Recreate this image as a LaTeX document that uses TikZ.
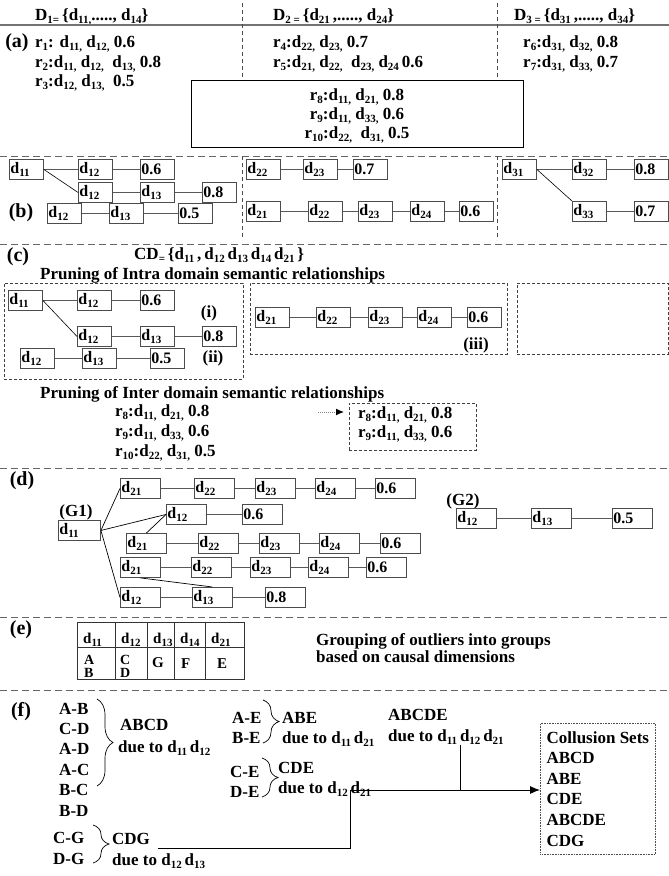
\documentclass[tikz,border=0pt]{standalone}
\usepackage{fontspec}
\setmainfont{Liberation Serif}
\usetikzlibrary{arrows.meta,positioning,decorations.pathreplacing}
\newcommand{\sbx}[1]{\raisebox{-3.5pt}{\fontsize{11}{11}\selectfont #1}}
\newcommand{\dd}[1]{d\sbx{#1}}
\tikzset{
  txt/.style={
    font=\bfseries\fontsize{17}{20.6}\selectfont,
    inner sep=0pt,
    anchor=base west
  },
  secLabel/.style={
    font=\bfseries\fontsize{20}{20}\selectfont,
    inner sep=0pt
  },
  dbox/.style={
    draw=black!70,
    line width=0.9pt,
    anchor=north west,
    text width=32pt,
    inner xsep=1pt,
    inner ysep=0pt,
    minimum height=20pt,
    align=left,
    font=\bfseries\fontsize{16}{16}\selectfont
  },
  dboxW/.style={
    dbox,
    text width=38pt
  },
  rlink/.style={
    draw=black!65,
    line width=0.9pt
  },
  secLine/.style={
    draw=black!60,
    line width=0.9pt,
    dash pattern=on 7pt off 4pt
  },
  colLine/.style={
    draw=black!70,
    line width=0.7pt,
    dash pattern=on 4pt off 3pt
  },
  grpBox/.style={
    draw=black!75,
    line width=0.8pt,
    dash pattern=on 3pt off 2pt,
    anchor=north west,
    inner sep=0pt
  },
  ruleBox/.style={
    draw=black,
    line width=0.9pt,
    anchor=north west,
    inner sep=0pt
  },
  tblLine/.style={
    draw=black!80,
    line width=0.8pt
  },
  tblHead/.style={
    font=\bfseries\fontsize{15}{15}\selectfont,
    inner sep=0pt,
    anchor=base west
  },
  tblCell/.style={
    font=\bfseries\fontsize{14}{14}\selectfont,
    inner sep=0pt,
    anchor=base west
  },
  brc/.style={
    decorate,
    decoration={brace, amplitude=#1},
    draw=black,
    line width=0.7pt
  },
  brc/.default=12pt,
  flowLine/.style={
    draw=black,
    line width=0.9pt
  },
  dotArrow/.style={
    draw=black!50,
    line width=1pt,
    dash pattern=on 1pt off 1pt,
    -{Latex[length=8pt,width=7pt,black]}
  },
  collBox/.style={
    draw=black!70,
    line width=0.6pt,
    dash pattern=on 0.8pt off 0.8pt,
    anchor=north west,
    minimum width=115pt,
    minimum height=131pt,
    inner xsep=5pt,
    inner ysep=6pt,
    align=left,
    font=\bfseries\fontsize{17}{20.6}\selectfont
  }
}

\begin{document}
\begin{tikzpicture}[x=1pt, y=-1pt]
  \useasboundingbox (0,0) rectangle (669,876);

  % (a) rules per domain
  \node[txt] (hD1) at (35,20) {D\sbx{1=}\,\{\dd{11,}....., \dd{14}\}};
  \node[txt] (hD2) at (273,20) {D\sbx{2 =}\,\{\dd{21}\,,....., \dd{24}\}};
  \node[txt] (hD3) at (514,20) {D\sbx{3 =}\,\{\dd{31}\,,....., \dd{34}\}};
  \draw[draw=black!55, line width=2pt] (0,25) -- (669,25);
  \draw[colLine] (242,3) -- (242,80);
  \draw[colLine] (497,3) -- (497,80);

  \node[secLabel] (labA) at (17,43) {(a)};
  \node[txt] (r1) at (35,47) {r\sbx{1}: \dd{11,} \dd{12,} 0.6};
  \node[txt] (r2) at (35,67) {r\sbx{2}:\dd{11,} \dd{12,}\ \ \dd{13,} 0.8};
  \node[txt] (r3) at (35,86) {r\sbx{3}:\dd{12,} \dd{13,}\ \ 0.5};
  \node[txt] (r4) at (273,47) {r\sbx{4}:\dd{22,} \dd{23,} 0.7};
  \node[txt] (r5) at (273,67) {r\sbx{5}:\dd{21,} \dd{22,}\ \ \dd{23,} \dd{24}\,0.6};
  \node[txt] (r6) at (523,47) {r\sbx{6}:\dd{31,} \dd{32,} 0.8};
  \node[txt] (r7) at (523,67) {r\sbx{7}:\dd{31,} \dd{33,} 0.7};

  \node[ruleBox, minimum width=332pt, minimum height=67pt] (cross) at (191,80) {};
  \node[txt, anchor=base] (r8) at (357,100) {r\sbx{8}:\dd{11,} \dd{21,} 0.8};
  \node[txt, anchor=base] (r9) at (357,119) {r\sbx{9}:\dd{11,} \dd{33,} 0.6};
  \node[txt, anchor=base] (r10) at (357,138) {r\sbx{10}:\dd{22,}\ \ \dd{31,} 0.5};

  % (b) graphs of the rules
  \draw[secLine] (0,156) -- (669,156);
  \draw[colLine] (242,156) -- (242,240);
  \draw[colLine] (497,156) -- (497,240);
  \node[secLabel] (labB) at (21,213) {(b)};

  \node[dbox] (b11) at (9,159) {\dd{11}};
  \node[dbox] (b12) at (78,159) {\dd{12}};
  \node[dbox] (b06) at (140,159) {0.6};
  \node[dbox] (b12x) at (78,182) {\dd{12}};
  \node[dbox] (b13x) at (140,182) {\dd{13}};
  \node[dbox] (b08) at (202,182) {0.8};
  \node[dbox] (b12y) at (47,203) {\dd{12}};
  \node[dbox] (b13y) at (109,203) {\dd{13}};
  \node[dbox] (b05) at (178,203) {0.5};

  \node[dbox] (b22) at (246,159) {\dd{22}};
  \node[dbox] (b23) at (303,159) {\dd{23}};
  \node[dbox] (b07) at (353,159) {0.7};
  \node[dbox] (b21r) at (246,201) {\dd{21}};
  \node[dbox] (b22r) at (308,201) {\dd{22}};
  \node[dbox] (b23r) at (358,201) {\dd{23}};
  \node[dbox] (b24r) at (410,201) {\dd{24}};
  \node[dbox] (b06r) at (459,201) {0.6};

  \node[dbox] (b31) at (502,159) {\dd{31}};
  \node[dbox] (b32) at (572,159) {\dd{32}};
  \node[dbox] (b08r) at (634,159) {0.8};
  \node[dbox] (b33) at (572,201) {\dd{33}};
  \node[dbox] (b07r) at (634,201) {0.7};

  \foreach \a/\b in {b11/b12, b12/b06, b12x/b13x, b13x/b08, b12y/b13y, b13y/b05,
                     b22/b23, b23/b07, b21r/b22r, b22r/b23r, b23r/b24r, b24r/b06r,
                     b31/b32, b32/b08r, b33/b07r}
    \draw[rlink] (\a) -- (\b);
  \draw[black, line width=0.6pt] (b11.east) -- (b12x.west);
  \draw[black, line width=0.6pt] (b31.east) -- (b33.north west);

  % (c) pruning
  \draw[secLine] (0,244) -- (669,244);
  \node[secLabel] (labC) at (18,257) {(c)};
  \node[txt] (cdSet) at (134,259) {CD\sbx{=}\,\{\dd{11}\,,\,\dd{12}\,\dd{13}\,\dd{14}\,\dd{21}\,\}};
  \node[txt] (intraT) at (40,279) {Pruning of Intra domain semantic relationships};

  \node[grpBox, minimum width=239pt, minimum height=96pt] (grpI) at (4,283) {};
  \node[grpBox, minimum width=257pt, minimum height=71pt] (grpIII) at (250,283) {};
  \node[grpBox, minimum width=151pt, minimum height=71pt] (grpNone) at (517,283) {};

  \node[dbox] (c11) at (8,290) {\dd{11}};
  \node[dbox] (c12) at (77,290) {\dd{12}};
  \node[dbox] (c06) at (140,290) {0.6};
  \node[dbox] (c12x) at (77,326) {\dd{12}};
  \node[dbox] (c13x) at (140,326) {\dd{13}};
  \node[dbox] (c08) at (202,326) {0.8};
  \node[dbox] (c12y) at (20,348) {\dd{12}};
  \node[dbox] (c13y) at (82,348) {\dd{13}};
  \node[dbox] (c05) at (150,348) {0.5};
  \node[txt, anchor=center] (tagI) at (209,313) {(i)};
  \node[txt, anchor=center] (tagII) at (213,358) {(ii)};

  \node[dbox] (c21) at (255,307) {\dd{21}};
  \node[dbox] (c22) at (316,307) {\dd{22}};
  \node[dbox] (c23) at (368,307) {\dd{23}};
  \node[dbox] (c24) at (417,307) {\dd{24}};
  \node[dbox] (c06m) at (467,307) {0.6};
  \node[txt, anchor=center] (tagIII) at (476,345) {(iii)};

  \foreach \a/\b in {c11/c12, c12/c06, c12x/c13x, c13x/c08, c12y/c13y, c13y/c05,
                     c21/c22, c22/c23, c23/c24, c24/c06m}
    \draw[rlink] (\a) -- (\b);
  \draw[black, line width=0.6pt] (c11.east) -- (c12x.west);

  \node[txt] (interT) at (40,398) {Pruning of Inter domain semantic relationships};
  \node[txt] (p8) at (115,416) {r\sbx{8}:\dd{11,} \dd{21,} 0.8};
  \node[txt] (p9) at (115,436) {r\sbx{9}:\dd{11,} \dd{33,} 0.6};
  \node[txt] (p10) at (115,456) {r\sbx{10}:\dd{22,} \dd{31,} 0.5};
  \node[grpBox, minimum width=127pt, minimum height=47pt] (kept) at (349,403) {};
  \node[txt] (k8) at (358,418) {r\sbx{8}:\dd{11,} \dd{21,} 0.8};
  \node[txt] (k9) at (358,437) {r\sbx{9}:\dd{11,} \dd{33,} 0.6};
  \coordinate (pruneFrom) at (318,412);
  \draw[dotArrow, shorten >=5pt] (pruneFrom) -- (kept.west |- pruneFrom);

  % (d) merged graphs
  \draw[secLine] (0,468) -- (669,468);
  \node[secLabel] (labD) at (22,481) {(d)};
  \node[txt, anchor=center] (tagG1) at (76,512) {(G1)};
  \node[txt, anchor=center] (tagG2) at (463,501) {(G2)};

  \node[dboxW, text width=40pt] (g11) at (58,520) {\dd{11}};
  \node[dboxW] (gA21) at (120,478) {\dd{21}};
  \node[dboxW] (gA22) at (194,478) {\dd{22}};
  \node[dboxW] (gA23) at (255,478) {\dd{23}};
  \node[dboxW] (gA24) at (315,478) {\dd{24}};
  \node[dboxW] (gA06) at (375,478) {0.6};
  \node[dboxW] (gB12) at (166,504) {\dd{12}};
  \node[dboxW] (gB06) at (242,504) {0.6};
  \node[dboxW] (gC21) at (126,533) {\dd{21}};
  \node[dboxW] (gC22) at (198,533) {\dd{22}};
  \node[dboxW] (gC23) at (259,533) {\dd{23}};
  \node[dboxW] (gC24) at (319,533) {\dd{24}};
  \node[dboxW] (gC06) at (380,533) {0.6};
  \node[dboxW] (gD21) at (120,557) {\dd{21}};
  \node[dboxW] (gD22) at (191,557) {\dd{22}};
  \node[dboxW] (gD23) at (250,557) {\dd{23}};
  \node[dboxW] (gD24) at (308,557) {\dd{24}};
  \node[dboxW] (gD06) at (366,557) {0.6};
  \node[dboxW] (gE12) at (120,587) {\dd{12}};
  \node[dboxW] (gE13) at (192,587) {\dd{13}};
  \node[dboxW] (gE08) at (265,587) {0.8};

  \node[dboxW] (h12) at (456,508) {\dd{12}};
  \node[dboxW] (h13) at (531,508) {\dd{13}};
  \node[dboxW] (h05) at (612,508) {0.5};

  \foreach \a/\b in {gA21/gA22, gA22/gA23, gA23/gA24, gA24/gA06, gB12/gB06,
                     gC21/gC22, gC22/gC23, gC23/gC24, gC24/gC06,
                     gD21/gD22, gD22/gD23, gD23/gD24, gD24/gD06,
                     gE12/gE13, gE13/gE08, h12/h13, h13/h05}
    \draw[rlink] (\a) -- (\b);
  \foreach \n in {gA21, gB12, gE12}
    \draw[black, line width=0.7pt] (g11.east) -- (\n.west);
  \draw[black, line width=0.7pt] (gB12.west) -- (gC21.north);
  \draw[black, line width=0.7pt] (gD21.south) -- (gE13.north);

  % (e) grouping table
  \draw[secLine] (0,617) -- (669,617);
  \node[secLabel] (labE) at (21,630) {(e)};
  \draw[tblLine] (77,622) rectangle (244,679);
  \draw[tblLine] (77,647) -- (244,647);
  \foreach \x in {115,147,174,205}
    \draw[tblLine] (\x,622) -- (\x,679);
  \foreach \x/\s in {77/11, 115/12, 147/13, 174/14, 205/21}
    \node[tblHead] (hd\s) at ({\x+6},643) {\dd{\s}};
  \node[tblCell] (cellA) at (84,664) {A};
  \node[tblCell] (cellB) at (84,677) {B};
  \node[tblCell] (cellC) at (120,664) {C};
  \node[tblCell] (cellD) at (120,677) {D};
  \node[tblCell, font=\bfseries\fontsize{15}{15}\selectfont] (cellG) at (152,667) {G};
  \node[tblCell, font=\bfseries\fontsize{15}{15}\selectfont] (cellF) at (181,668) {F};
  \node[tblCell, font=\bfseries\fontsize{15}{15}\selectfont] (cellE) at (217,668) {E};
  \node[txt] (groupT1) at (316,645) {Grouping of outliers into groups};
  \node[txt] (groupT2) at (316,662) {based on causal dimensions};

  % (f) collusion sets
  \draw[secLine] (0,690) -- (669,690);
  \node[secLabel] (labF) at (21,712) {(f)};
  \foreach \t [count=\i] in {A-B, C-D, A-D, A-C, B-C, B-D}
    \node[txt] (pr\i) at (59,{714+20.4*(\i-1)}) {\t};
  \draw[brc=16pt] (97,699) -- (97,786);
  \node[txt] (setA) at (120,730) {ABCD};
  \node[txt] (dueA) at (118,752) {due to \dd{11}\,\dd{12}};

  \node[txt] (prAE) at (232,723) {A-E};
  \node[txt] (prBE) at (232,743) {B-E};
  \draw[brc=16pt] (263,700) -- (263,743);
  \node[txt] (setB) at (282,723) {ABE};
  \node[txt] (dueB) at (282,743) {due to \dd{11}\,\dd{21}};

  \node[txt] (setAll) at (388,720) {ABCDE};
  \node[txt] (dueAll) at (388,741) {due to \dd{11}\,\dd{12}\,\dd{21}};

  \node[txt] (prCE) at (230,777) {C-E};
  \node[txt] (prDE) at (230,797) {D-E};
  \draw[brc=16pt] (262,758) -- (262,797);
  \node[txt] (setC) at (278,773) {CDE};
  \node[txt] (dueC) at (278,793) {due to \dd{12}\,\dd{21}};

  \node[txt] (prCG) at (53,843) {C-G};
  \node[txt] (prDG) at (53,864) {D-G};
  \draw[brc=16pt] (93,825) -- (93,863);
  \node[txt] (setD) at (112,844) {CDG};
  \node[txt] (dueD) at (112,865) {due to \dd{12}\,\dd{13}};

  \node[collBox] (coll) at (540,723) {Collusion Sets\\ABCD\\ABE\\CDE\\ABCDE\\CDG};

  \coordinate (join) at (350,790);
  \coordinate (drop) at (460,790);
  \draw[flowLine] ([xshift=8pt,yshift=-4pt]setD.base east) -| (join);
  \draw[flowLine] (drop |- dueAll.south) -- (drop);
  \draw[flowLine, -{Latex[length=10pt,width=8pt]}] (join) -- (coll.west |- join);
\end{tikzpicture}
\end{document}
